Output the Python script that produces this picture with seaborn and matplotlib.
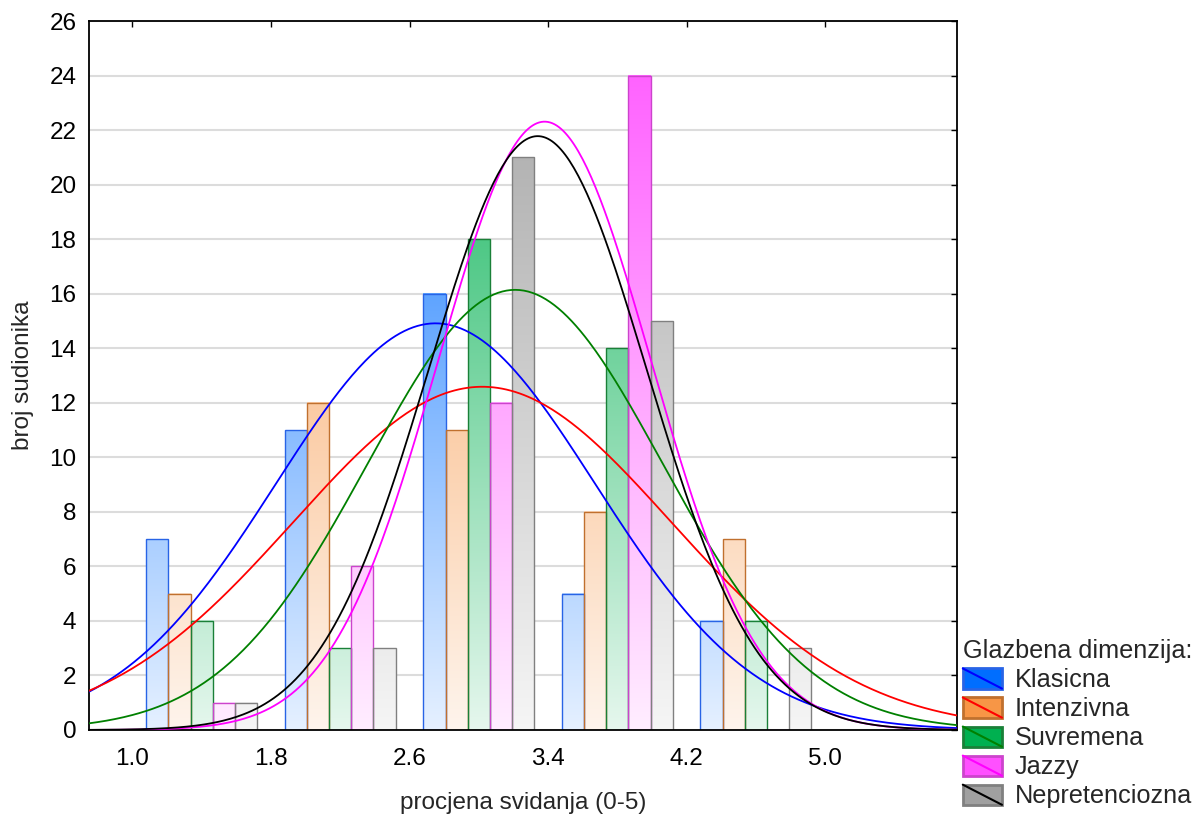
import matplotlib
matplotlib.use('Agg')
import matplotlib.pyplot as plt
import numpy as np
import pandas as pd
import seaborn as sns
from matplotlib.legend_handler import HandlerBase
from matplotlib.patches import Rectangle
from matplotlib.lines import Line2D
from matplotlib.colors import to_rgb

# data
dimenzije = ['Klasicna', 'Intenzivna', 'Suvremena', 'Jazzy', 'Nepretenciozna']
sredine_razreda = [1.4, 2.2, 3.0, 3.8, 4.6]
klasicna = [7, 11, 16, 5, 4]
intenzivna = [5, 12, 11, 8, 7]
suvremena = [4, 3, 18, 14, 4]
jazzy = [1, 6, 12, 24, 0]
nepretenciozna = [1, 3, 21, 15, 3]
# fitted normal curves (mean, sd)
prosjek = [2.75, 3.02, 3.21, 3.38, 3.34]
st_dev = [0.92, 1.09, 0.85, 0.615, 0.63]
x_ticks = [1.0, 1.8, 2.6, 3.4, 4.2, 5.0]
sirina_razreda = 0.8

# colours
boje_ispune = ['#006EFF', '#F79646', '#00B050', '#FF50FF', '#A0A0A0']
boje_ruba = ['#2864E6', '#C0702E', '#1A8038', '#CC44CC', '#808080']
boje_krivulja = ['#0000FF', '#FF0000', '#008000', '#FF00FF', '#000000']

sns.set_style('white')
plt.rcParams['font.family'] = ['Liberation Sans', 'DejaVu Sans']
font_size = 17.5

fig = plt.figure(figsize=(12.02, 8.15), dpi=100)
ax = fig.add_axes([0.074, 0.1043, 0.722, 0.8697])

counts = [klasicna, intenzivna, suvremena, jazzy, nepretenciozna]
df = pd.DataFrame({
    'razred': np.tile(sredine_razreda, len(dimenzije)),
    'broj': np.concatenate(counts),
    'dim': np.repeat(dimenzije, len(sredine_razreda)),
})
sns.barplot(data=df, x='razred', y='broj', hue='dim', hue_order=dimenzije,
            native_scale=True, width=0.8, dodge=True, errorbar=None,
            palette=boje_ispune, legend=False, ax=ax)

# gradient fill: colour strength depends on height in the plot
for i, cont in enumerate(ax.containers):
    base = np.array(to_rgb(boje_ispune[i]))
    for bar in cont:
        bar.set_facecolor('none')
        bar.set_edgecolor(boje_ruba[i])
        bar.set_linewidth(1.0)
        bar.set_zorder(2)
        h = bar.get_height()
        if h <= 0:
            continue
        x0, w = bar.get_x(), bar.get_width()
        ys = np.linspace(0, h, 200)
        t = np.clip(0.1 + 0.033 * ys, 0, 1)
        rgb = 1 - t[:, None] * (1 - base)
        ax.imshow(rgb[:, None, :], extent=[x0, x0 + w, 0, h], origin='lower',
                  aspect='auto', zorder=1.5, interpolation='bilinear')

# normal curves
xs = np.linspace(0.749, 5.76, 400)
krivulje = []
for i, d in enumerate(dimenzije):
    n = sum(counts[i])
    ys = n * sirina_razreda / (st_dev[i] * np.sqrt(2 * np.pi)) * \
        np.exp(-0.5 * ((xs - prosjek[i]) / st_dev[i]) ** 2)
    krivulje.append(pd.DataFrame({'x': xs, 'y': ys, 'dim': d}))
df_k = pd.concat(krivulje)
sns.lineplot(data=df_k, x='x', y='y', hue='dim', hue_order=dimenzije,
             palette=boje_krivulja, linewidth=1.3, legend=False, ax=ax,
             zorder=3, sort=False)

ax.set_xlim(0.749, 5.76)
ax.set_ylim(0, 26)
ax.set_xticks(x_ticks)
ax.set_xticklabels([f'{v:.1f}' for v in x_ticks])
ax.set_yticks(np.arange(0, 27, 2))
ax.set_axisbelow(True)
ax.yaxis.grid(True, color='#dcdcdc', linewidth=1.5)
ax.xaxis.grid(False)
ax.tick_params(direction='in', length=4, width=1, top=True, right=True,
               labelsize=font_size, colors='black')
ax.tick_params(axis='x', pad=13)
ax.tick_params(axis='y', pad=9)
for s in ax.spines.values():
    s.set_color('black')
    s.set_linewidth(1.3)
ax.set_xlabel('procjena svidanja (0-5)', fontsize=font_size, labelpad=16)
ax.set_ylabel('broj sudionika', fontsize=font_size, labelpad=11)


class Uzorak(HandlerBase):
    def __init__(self, ispuna, rub, linija):
        super().__init__()
        self.ispuna, self.rub, self.linija = ispuna, rub, linija

    def create_artists(self, legend, orig_handle, xdescent, ydescent,
                       width, height, fontsize, trans):
        r = Rectangle((-xdescent, -ydescent), width, height,
                      facecolor=self.ispuna, edgecolor=self.rub, lw=2,
                      transform=trans)
        l = Line2D([-xdescent, -xdescent + width],
                   [-ydescent + height, -ydescent], color=self.linija,
                   lw=1.5, transform=trans)
        return [r, l]


handles = [Rectangle((0, 0), 1, 1) for _ in dimenzije]
handler_map = {h: Uzorak(boje_ispune[i], boje_ruba[i], boje_krivulja[i])
               for i, h in enumerate(handles)}
leg = fig.legend(handles, dimenzije, handler_map=handler_map,
                 title='Glazbena dimenzija:', loc='lower left',
                 bbox_to_anchor=(0.801, 0.008), bbox_transform=fig.transFigure,
                 frameon=False, fontsize=18.2, title_fontsize=18.2,
                 handlelength=1.55, handleheight=0.85, handletextpad=0.5,
                 labelspacing=0.2, borderpad=0, borderaxespad=0,
                 alignment='left')

fig.savefig('out.png', dpi=100)
